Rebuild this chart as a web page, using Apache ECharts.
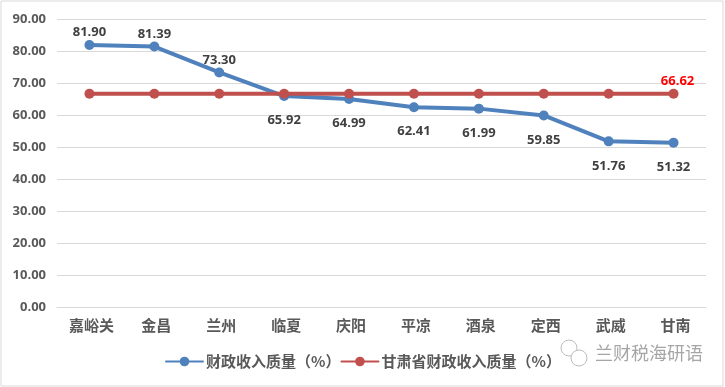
<!DOCTYPE html>
<html><head><meta charset="utf-8">
<style>html,body{margin:0;padding:0;background:#fff}#c{width:725px;height:387px}</style>
<script src="https://cdn.jsdelivr.net/npm/echarts@6/dist/echarts.min.js"></script>
</head><body><div id="c"></div>
<script>
const categories=['嘉峪关','金昌','兰州','临夏','庆阳','平凉','酒泉','定西','武威','甘南'];
const revenueQuality=[81.90,81.39,73.30,65.92,64.99,62.41,61.99,59.85,51.76,51.32];
const provinceQuality=[66.62,66.62,66.62,66.62,66.62,66.62,66.62,66.62,66.62,66.62];
const labelAbove=[0,1,2];
const FONT='"Open Sans","Noto Sans CJK SC",sans-serif';
const CJK='"Noto Sans CJK SC",sans-serif';
const chart=echarts.init(document.getElementById('c'));
chart.setOption({
  animation:false,
  backgroundColor:'#fff',
  grid:{left:57,right:19,top:19,bottom:80,containLabel:false},
  legend:{
    left:160,top:349,itemWidth:37,itemHeight:12,itemGap:0,
    textStyle:{fontFamily:CJK,fontSize:15,fontWeight:'bold',color:'#595959',padding:[0,0,0,-2]},
    data:['财政收入质量（%）','甘肃省财政收入质量（%）']
  },
  xAxis:{type:'category',data:categories,
    axisLine:{lineStyle:{color:'#d9d9d9',width:1}},axisTick:{show:false},
    axisLabel:{fontFamily:CJK,fontSize:15,fontWeight:'bold',color:'#595959',margin:11,padding:[0,0,0,4]}},
  yAxis:{type:'value',min:0,max:90,interval:10,
    axisLine:{show:false},axisTick:{show:false},
    splitLine:{lineStyle:{color:'#d9d9d9',width:1}},
    axisLabel:{fontFamily:FONT,fontSize:13,fontWeight:'bold',color:'#595959',margin:11,
      formatter:v=>v.toFixed(2)}},
  series:[
    {name:'财政收入质量（%）',type:'line',data:revenueQuality.map((v,i)=>({value:v,
        label:{position:labelAbove.includes(i)?'top':'bottom',distance:labelAbove.includes(i)?1:13}})),
      symbol:'circle',symbolSize:10,
      lineStyle:{color:'#4f81bd',width:4,cap:'round'},itemStyle:{color:'#4f81bd'},
      label:{show:true,fontFamily:FONT,fontSize:13,fontWeight:'bold',color:'#404040',
        formatter:p=>p.value.toFixed(2)}},
    {name:'甘肃省财政收入质量（%）',type:'line',data:provinceQuality.map((v,i)=>({value:v,
        label:{show:i===provinceQuality.length-1}})),
      symbol:'circle',symbolSize:10,
      lineStyle:{color:'#c0504d',width:4,cap:'round'},itemStyle:{color:'#c0504d'},
      label:{show:false,position:'top',distance:1,offset:[4,0],fontFamily:FONT,fontSize:13,fontWeight:'bold',color:'#ff0000',
        formatter:p=>p.value.toFixed(2)}}
  ],
  graphic:[
    {type:'rect',shape:{x:1,y:1,width:722,height:385},style:{fill:'none',stroke:'#d9d9d9',lineWidth:1},silent:true},
    {type:'text',left:595,top:344,style:{text:'兰财税海研语',fontFamily:CJK,fontSize:18,fill:'#a6a6a6'},silent:true},
    {type:'circle',shape:{cx:569,cy:348,r:8},style:{fill:'#fff',stroke:'#bdbdbd',lineWidth:1},silent:true},
    {type:'circle',shape:{cx:579,cy:358,r:8},style:{fill:'#fff',stroke:'#bdbdbd',lineWidth:1},silent:true}
  ]
});
</script></body></html>
